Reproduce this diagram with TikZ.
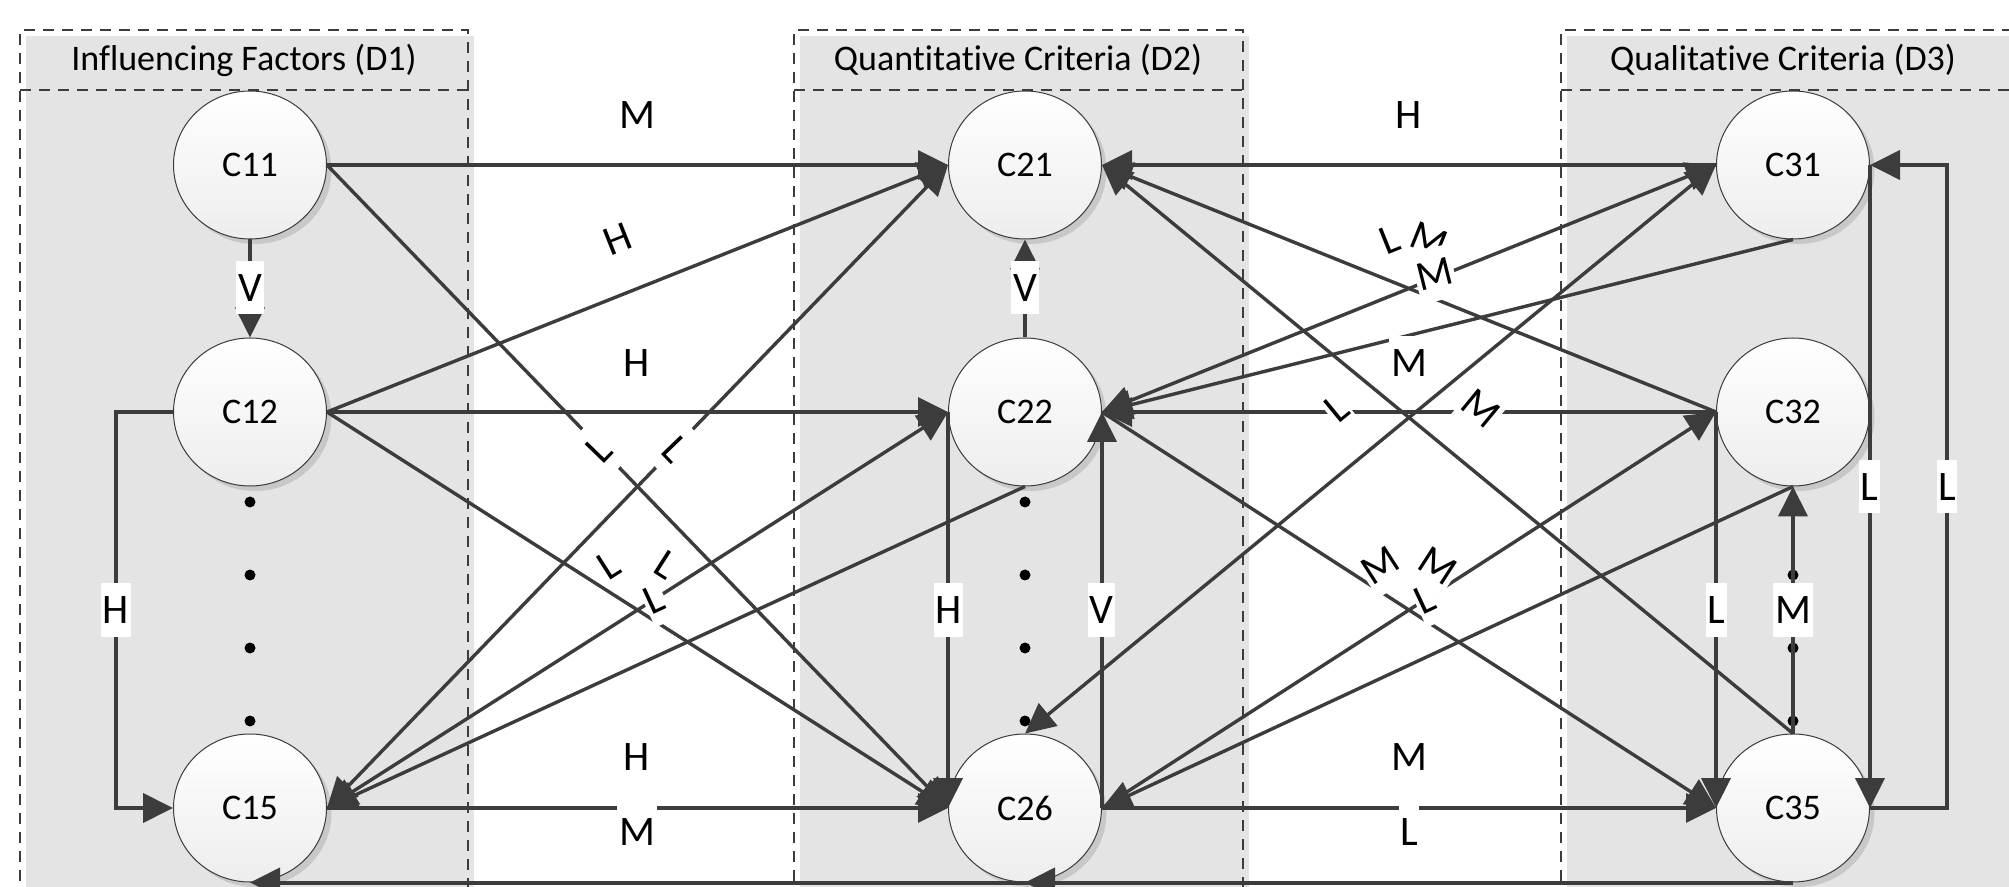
\documentclass[tikz,border=0pt]{standalone}
\usepackage{fontspec}
\setmainfont{Carlito}[Ligatures=NoCommon]
\usetikzlibrary{arrows.meta,calc,shapes.geometric,shadows}
\definecolor{lc}{HTML}{3C3C3C}
\definecolor{boxfill}{HTML}{E4E4E4}
\newcommand\uplab[4]{\path ($(#1)!26.5pt!90:(#2)$) -- ($(#2)!26.5pt!-90:(#1)$) node[lab,midway,sloped] (#3) {#4};}
\begin{document}
\begin{tikzpicture}[x=0.5pt,y=-0.5pt,
  conn/.style={draw=lc, line width=1.7pt, -{Triangle[length=15pt,width=14.5pt]}},
  twoway/.style={draw=lc, line width=1.7pt, {Triangle[length=15pt,width=14.5pt]}-{Triangle[length=15pt,width=14.5pt]}},
  ortho/.style={conn, line width=2pt},
  crit/.style={ellipse, minimum width=76.5pt, minimum height=74pt, inner sep=0pt,
    draw=lc, line width=0.5pt, top color=white, bottom color=black!7,
    drop shadow={shadow xshift=2.5pt, shadow yshift=-2.5pt, opacity=0.12, fill=black},
    font=\fontsize{18}{21}\selectfont},
  lab/.style={fill=white, inner xsep=0.8pt, inner ysep=0pt, text height=20pt, text depth=6.5pt,
    font=\fontsize{21}{25}\selectfont},
  boxline/.style={draw=lc, line width=1pt, dash pattern=on 5.5pt off 4pt},
  title/.style={font=\fontsize{18}{21}\selectfont, inner sep=0pt},
  dotmark/.style={circle, fill=black, minimum size=5.5pt, inner sep=0pt}
]
\useasboundingbox (0,0) rectangle (2009,887);
\clip (0,0) rectangle (2009,887);
% group boxes
\fill[boxfill] (26,36) rectangle (474,900);
\fill[boxfill] (800,36) rectangle (1249,900);
\fill[boxfill] (1567,36) rectangle (2016,900);
\draw[boxline] (20,900) -- (20,30) -- (468,30) -- (468,900);
\draw[boxline] (20,90) -- (468,90);
\draw[boxline] (794,900) -- (794,30) -- (1243,30) -- (1243,900);
\draw[boxline] (794,90) -- (1243,90);
\draw[boxline] (1561,900) -- (1561,30) -- (2010,30) -- (2010,900);
\draw[boxline] (1561,90) -- (2010,90);
\node[title] (d1) at (244,60) {Influencing Factors (D1)};
\node[title] (d2) at (1018,60) {Quantitative Criteria (D2)};
\node[title] (d3) at (1783,60) {Qualitative Criteria (D3)};
% criteria
\node[crit] (C11) at (250,165) {C11};
\node[crit] (C12) at (250,412) {C12};
\node[crit] (C15) at (250,808) {C15};
\node[crit] (C21) at (1025,165) {C21};
\node[crit] (C22) at (1025,412) {C22};
\node[crit] (C26) at (1025,808) {C26};
\node[crit] (C31) at (1793,165) {C31};
\node[crit] (C32) at (1793,412) {C32};
\node[crit] (C35) at (1793,808) {C35};
% ellipsis dots
\foreach \cx/\cn in {250/a,1025/b,1793/c}{
  \foreach \cy/\ci in {502/1,575/2,648/3,721/4}{
    \node[dotmark] (dot\cn\ci) at (\cx,\cy) {};
  }
}
% horizontal connectors
\draw[conn] (C11.east) -- (C21.west);
\draw[conn] (C12.east) -- (C22.west);
\draw[conn] (C15.east) -- (C26.west);
\draw[conn] (C31.west) -- (C21.east);
\draw[conn] (C32.west) -- (C22.east);
\draw[conn] (C26.east) -- (C35.west);
% diagonal connectors, left
\draw[conn] (C12.east) -- (C21.west);
\draw[conn] (C11.east) -- (C26.west);
\draw[conn] (C12.east) -- (C26.west);
\draw[twoway] (C15.east) -- (C21.west);
\draw[twoway] (C15.east) -- (C22.west);
\draw[conn] (C22.south) -- (C15.east);
% diagonal connectors, right
\draw[conn] (C32.west) -- (C21.east);
\draw[twoway] (C22.east) -- (C31.west);
\draw[conn] (C31.south) -- (C22.east);
\draw[twoway] (C26.north) -- (C31.west);
\draw[conn] (C35.north) -- (C21.east);
\draw[conn] (C22.east) -- (C35.west);
\draw[conn] (C26.east) -- (C32.west);
\draw[conn] (C32.south) -- (C26.east);
% orthogonal connectors
\draw[ortho] (C11.south) -- (C12.north);
\draw[ortho] (C22.north) -- (C21.south);
\draw[ortho] (C22.west) -- (C26.west);
\draw[ortho] (C26.east) -- (C22.east);
\draw[ortho] (C32.west) -- (C35.west);
\draw[ortho] (C35.north) -- (C32.south);
\draw[ortho] (C31.east) -- (C35.east);
\draw[ortho] (C35.east) -- (1947,808) -- (1947,165) -- (C31.east);
\draw[ortho] (C12.west) -- (116,412) -- (116,808) -- (C15.west);
\draw[ortho] (C35.south) -- (C15.south);
\draw[ortho] (C35.south) -- (C26.south);
% labels on horizontal connectors
\node[lab] (h1) at (637,115) {M};
\node[lab] (h2) at (637,363) {H};
\node[lab] (h3) at (637,757) {H};
\node[lab] (h4) at (637,832) {M};
\node[lab] (h5) at (1409,115) {H};
\node[lab] (h6) at (1409,363) {M};
\node[lab] (h7) at (1409,757) {M};
\node[lab] (h8) at (1409,832) {L};
% labels on vertical connectors
\node[lab] (v1) at (250,288) {V};
\node[lab] (v2) at (1025,288) {V};
\node[lab] (v3) at (116,610) {H};
\node[lab] (v4) at (948.5,610) {H};
\node[lab] (v5) at (1101.5,610) {V};
\node[lab] (v6) at (1716.5,610) {L};
\node[lab] (v7) at (1793,610) {M};
\node[lab] (v8) at (1869.5,487) {L};
\node[lab] (v9) at (1947,487) {L};
% sloped labels
\uplab{C12.east}{C21.west}{s1}{H}
\uplab{C11.east}{C26.west}{s2}{L}
\uplab{C12.east}{C26.west}{s3}{L}
\uplab{C15.east}{C21.west}{s4}{L}
\uplab{C15.east}{C22.west}{s5}{L}
\uplab{C15.east}{C22.south}{s6}{L}
\uplab{C21.east}{C32.west}{s7}{M}
\uplab{C22.east}{C31.west}{s8}{L}
\uplab{C22.east}{C31.south}{s9}{M}
\uplab{C26.north}{C31.west}{s10}{L}
\uplab{C21.east}{C35.north}{s11}{M}
\uplab{C22.east}{C35.west}{s12}{M}
\uplab{C26.east}{C32.west}{s13}{M}
\uplab{C26.east}{C32.south}{s14}{L}
\end{tikzpicture}
\end{document}
